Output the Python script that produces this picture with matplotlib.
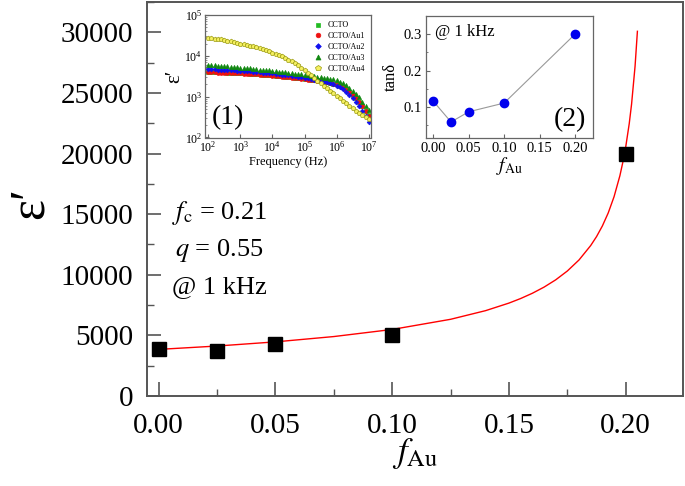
import numpy as np
import matplotlib
matplotlib.use("Agg")
import matplotlib.pyplot as plt
from matplotlib.ticker import MultipleLocator, LogLocator, FormatStrFormatter

plt.rcParams['font.family'] = ['Liberation Serif', 'DejaVu Serif']
plt.rcParams['mathtext.fontset'] = 'stix'

# ---------------- main data ----------------
f_au = [0.0, 0.025, 0.05, 0.10, 0.20]
eps_1khz = [3860, 3720, 4330, 5070, 20000]

# fitted percolation curve (fc = 0.21, q = 0.55)
fit_f = [0.0, 0.025, 0.05, 0.075, 0.10, 0.125, 0.14, 0.15, 0.155, 0.16,
         0.165, 0.17, 0.175, 0.18, 0.185, 0.1875, 0.19, 0.1925, 0.195,
         0.1975, 0.199, 0.20, 0.2015, 0.2025, 0.204, 0.205]
fit_eps = [3850, 4128, 4471, 4909, 5494, 6332, 7046, 7669, 8045, 8477,
           8983, 9584, 10315, 11226, 12415, 13151, 14030, 15101, 16440,
           18172, 19497, 20550, 22466, 24070, 27207, 30080]

# ---------------- inset (1): frequency dependence ----------------
freq_exp = [2.0 + 0.1 * k for k in range(51)]
log_eps_ccto = [3.615, 3.61, 3.605, 3.60, 3.60, 3.595, 3.59, 3.59, 3.585, 3.58,
                3.58, 3.575, 3.57, 3.565, 3.56, 3.555, 3.55, 3.54, 3.535, 3.53,
                3.52, 3.515, 3.51, 3.50, 3.49, 3.485, 3.475, 3.465, 3.46, 3.45,
                3.44, 3.43, 3.42, 3.41, 3.40, 3.385, 3.37, 3.36, 3.34, 3.32,
                3.30, 3.27, 3.23, 3.18, 3.12, 3.05, 2.97, 2.88, 2.78, 2.66, 2.54]
log_eps_au1 = [3.60, 3.60, 3.595, 3.59, 3.59, 3.585, 3.58, 3.58, 3.575, 3.57,
               3.57, 3.565, 3.56, 3.555, 3.55, 3.545, 3.54, 3.53, 3.525, 3.52,
               3.51, 3.505, 3.50, 3.49, 3.48, 3.475, 3.465, 3.455, 3.45, 3.44,
               3.43, 3.42, 3.41, 3.40, 3.39, 3.375, 3.36, 3.35, 3.33, 3.31,
               3.29, 3.26, 3.22, 3.17, 3.11, 3.04, 2.96, 2.87, 2.77, 2.65, 2.53]
log_eps_au2 = [3.68, 3.675, 3.67, 3.665, 3.66, 3.66, 3.655, 3.65, 3.645, 3.64,
               3.635, 3.63, 3.625, 3.62, 3.61, 3.605, 3.60, 3.59, 3.585, 3.575,
               3.57, 3.56, 3.55, 3.54, 3.53, 3.52, 3.51, 3.50, 3.49, 3.475,
               3.46, 3.45, 3.435, 3.42, 3.40, 3.385, 3.37, 3.35, 3.33, 3.30,
               3.27, 3.23, 3.18, 3.12, 3.05, 2.97, 2.88, 2.78, 2.66, 2.53, 2.39]
log_eps_au3 = [3.78, 3.77, 3.765, 3.76, 3.75, 3.745, 3.74, 3.73, 3.725, 3.715,
               3.71, 3.70, 3.695, 3.69, 3.68, 3.675, 3.665, 3.66, 3.65, 3.645,
               3.635, 3.625, 3.615, 3.605, 3.595, 3.585, 3.575, 3.565, 3.555, 3.545,
               3.535, 3.525, 3.51, 3.50, 3.49, 3.475, 3.465, 3.45, 3.44, 3.425,
               3.40, 3.37, 3.33, 3.28, 3.22, 3.15, 3.07, 2.98, 2.88, 2.78, 2.68]
log_eps_au4 = [4.44, 4.43, 4.42, 4.41, 4.40, 4.385, 4.37, 4.355, 4.34, 4.32,
               4.30, 4.28, 4.265, 4.25, 4.23, 4.21, 4.19, 4.17, 4.14, 4.11,
               4.08, 4.05, 4.02, 3.99, 3.95, 3.91, 3.87, 3.82, 3.77, 3.71,
               3.65, 3.59, 3.52, 3.46, 3.39, 3.33, 3.26, 3.20, 3.14, 3.08,
               3.02, 2.96, 2.90, 2.84, 2.78, 2.72, 2.66, 2.61, 2.56, 2.51, 2.46]
series_names = ['CCTO', 'CCTO/Au1', 'CCTO/Au2', 'CCTO/Au3', 'CCTO/Au4']

# ---------------- inset (2): loss tangent ----------------
tan_f = [0.0, 0.025, 0.05, 0.10, 0.20]
tan_delta = [0.116, 0.059, 0.087, 0.111, 0.300]

# ================= figure =================
fig = plt.figure(figsize=(6.85, 4.86), dpi=100)
ax = fig.add_axes([0.2146, 0.185, 0.7824, 0.811])

spine_c = '#555555'
ax.plot(fit_f, fit_eps, color='red', lw=1.0, zorder=2)
ax.plot(f_au, eps_1khz, 's', color='black', ms=10, zorder=3)
ax.set_xlim(-0.005, 0.2245)
ax.set_ylim(0, 32500)
ax.xaxis.set_major_locator(MultipleLocator(0.05))
ax.xaxis.set_minor_locator(MultipleLocator(0.025))
ax.yaxis.set_major_locator(MultipleLocator(5000))
ax.yaxis.set_minor_locator(MultipleLocator(2500))
ax.xaxis.set_major_formatter(FormatStrFormatter('%.2f'))
ax.tick_params(which='both', direction='in', top=False, right=False,
               labelsize=21, colors=spine_c, labelcolor='black')
ax.tick_params(which='major', length=10, width=1.2)
ax.tick_params(which='minor', length=5, width=1.0)
ax.tick_params(axis='x', pad=12)
ax.tick_params(axis='y', pad=10)
for s in ax.spines.values():
    s.set_color(spine_c)
    s.set_linewidth(1.4)

fig.text(415 / 685, 1 - 436 / 486, r'$f_{\mathrm{Au}}$', fontsize=25,
         ha='center', va='top')
fig.text(30 / 685, 1 - 203 / 486, "ε′", fontsize=36, rotation=90,
         ha='center', va='center')

ax.text(172 / 685, 1 - 213 / 486, r'$f_{\mathrm{c}}$ = 0.21', fontsize=19,
        transform=fig.transFigure, ha='left', va='center')
ax.text(175 / 685, 1 - 250 / 486, r'$q$ = 0.55', fontsize=19,
        transform=fig.transFigure, ha='left', va='center')
ax.text(172 / 685, 1 - 287 / 486, '@ 1 kHz', fontsize=19,
        transform=fig.transFigure, ha='left', va='center')

# ---------------- inset 1 ----------------
ax1 = fig.add_axes([205 / 685, 1 - 137.5 / 486, 166 / 685, 122.5 / 486])
freq = [10 ** e for e in freq_exp]
styles = [
    dict(marker='s', color='#22bb22', mec='#22bb22'),
    dict(marker='o', color='#ee1111', mec='#ee1111'),
    dict(marker='D', color='#1111ee', mec='#1111ee'),
    dict(marker='^', color='#118811', mec='#118811'),
    dict(marker='p', color='#f5f060', mec='#9a9a10'),
]
sizes = [2.6, 2.8, 2.4, 3.0, 3.4]
for name, vals, st, ms in zip(series_names,
                              [log_eps_ccto, log_eps_au1, log_eps_au2,
                               log_eps_au3, log_eps_au4], styles, sizes):
    ax1.plot(freq, [10 ** v for v in vals], ls='none', ms=ms, mew=0.5,
             label=name, **st)
ax1.set_xscale('log')
ax1.set_yscale('log')
ax1.set_xlim(10 ** 1.9, 10 ** 7.07)
ax1.set_ylim(1e2, 1e5)
ax1.xaxis.set_major_locator(LogLocator(base=10, numticks=10))
ax1.yaxis.set_major_locator(LogLocator(base=10, numticks=10))
ax1.tick_params(which='both', direction='in', labelsize=8.5, colors='#666666',
                labelcolor='black', top=False, right=False)
ax1.tick_params(which='major', length=3, width=0.8, pad=2)
ax1.tick_params(which='minor', length=1.5, width=0.5)
for s in ax1.spines.values():
    s.set_color('#666666')
    s.set_linewidth(0.9)
ax1.set_xlabel('Frequency (Hz)', fontsize=9, labelpad=1)
ax1.set_ylabel("ε′", fontsize=15, labelpad=0)
ax1.text(0.04, 0.06, '(1)', transform=ax1.transAxes, fontsize=20,
         ha='left', va='bottom')
ax1.legend(loc='upper right', frameon=False, fontsize=5.8, handlelength=0.8,
           handletextpad=0.8, labelspacing=0.35, borderaxespad=0.4,
           markerscale=1.2)

# ---------------- inset 2 ----------------
ax2 = fig.add_axes([426 / 685, 1 - 138 / 486, 166.7 / 685, 122 / 486])
ax2.plot(tan_f, tan_delta, '-', color='#999999', lw=0.8, zorder=1)
ax2.plot(tan_f, tan_delta, 'o', color='#0000ee', ms=6, zorder=2)
ax2.set_xlim(-0.0103, 0.225)
ax2.set_ylim(0.015, 0.35)
ax2.xaxis.set_major_locator(MultipleLocator(0.05))
ax2.yaxis.set_major_locator(MultipleLocator(0.1))
ax2.yaxis.set_minor_locator(MultipleLocator(0.05))
ax2.xaxis.set_major_formatter(FormatStrFormatter('%.2f'))
ax2.yaxis.set_major_formatter(FormatStrFormatter('%.1f'))
ax2.tick_params(which='both', direction='in', labelsize=10.5, colors='#666666',
                labelcolor='black', top=False, right=False)
ax2.tick_params(which='major', length=3, width=0.8, pad=3)
ax2.tick_params(which='minor', length=1.5, width=0.6)
for s in ax2.spines.values():
    s.set_color('#666666')
    s.set_linewidth(0.9)
ax2.set_xlabel(r'$f_{\mathrm{Au}}$', fontsize=14, labelpad=0)
ax2.set_ylabel('tanδ', fontsize=12, labelpad=3)
ax2.text(0.054, 0.87, '@ 1 kHz', transform=ax2.transAxes, fontsize=12,
         ha='left', va='center')
ax2.text(0.96, 0.05, '(2)', transform=ax2.transAxes, fontsize=20,
         ha='right', va='bottom')

fig.savefig('out.png', dpi=100)
